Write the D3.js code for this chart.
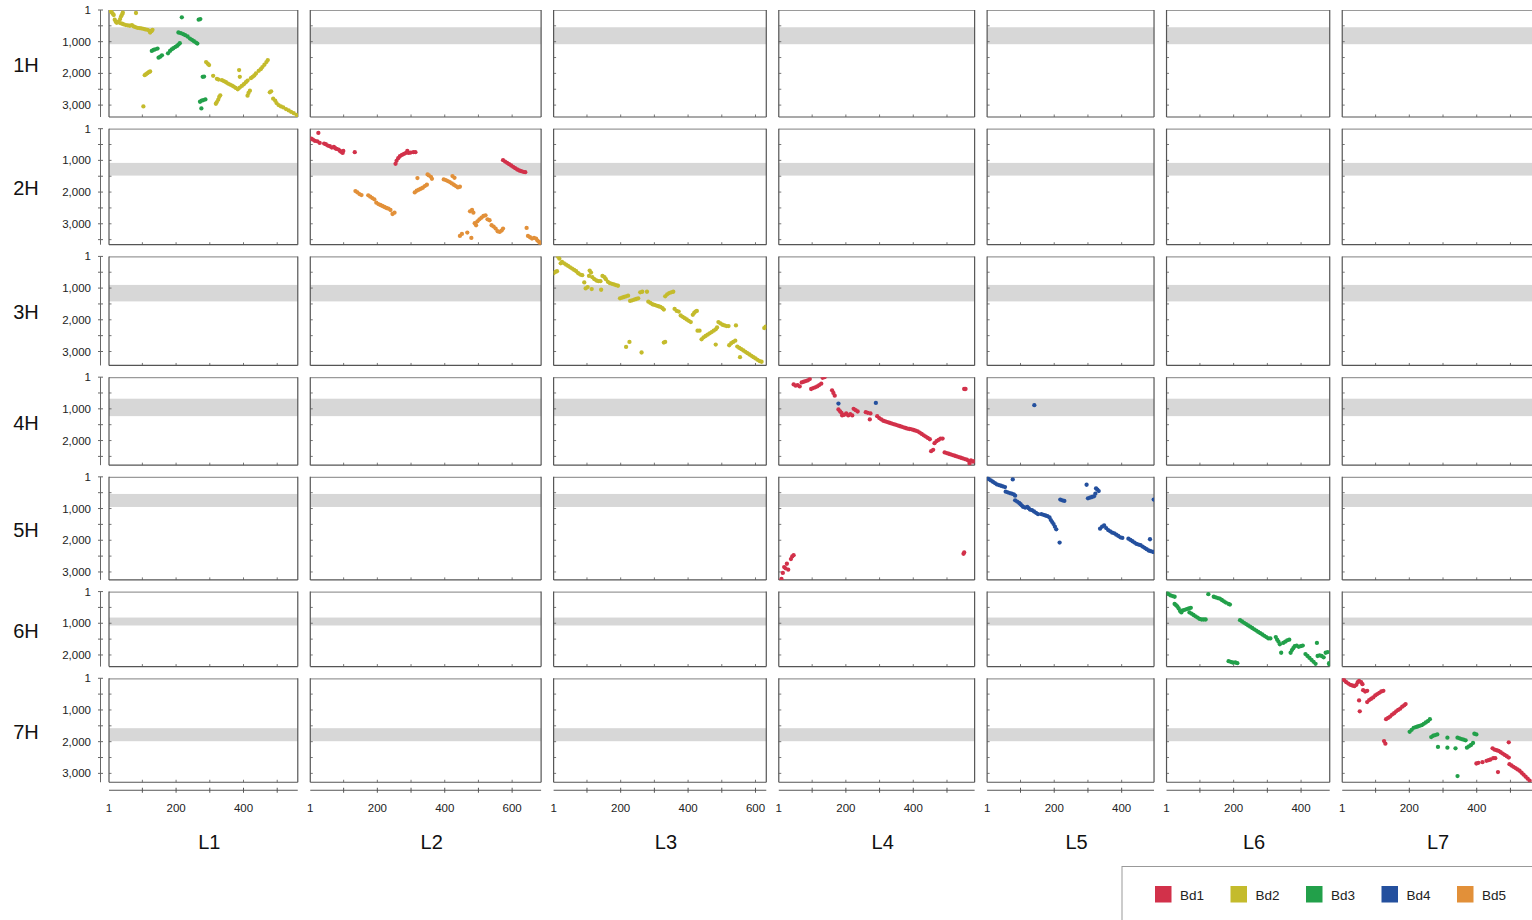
<!DOCTYPE html>
<html><head><meta charset="utf-8">
<script src="https://cdn.jsdelivr.net/npm/d3@7/dist/d3.min.js"></script>
<style>html,body{margin:0;padding:0;background:#fff;overflow:hidden}svg{display:block;font-family:Arial,"Liberation Sans",sans-serif}</style>
</head><body>
<svg id="chart" width="1532" height="920"></svg>
<script>
// ---- categories / extents ----
const rows = ["1H","2H","3H","4H","5H","6H","7H"];
const rowLen = [3375,3660,3440,2776,3250,2366,3280];
const cols = ["L1","L2","L3","L4","L5","L6","L7"];
const colLen = [561,686,632,582,496,485,570];
const centro = [[545,1080],[1080,1480],[900,1420],[680,1230],[540,950],[820,1070],[1575,1985]];
const series = ["Bd1","Bd2","Bd3","Bd4","Bd5"];
const colors = ["#d2314a","#c4bb2c","#22a04a","#24509e","#e29039"];
const yTickLabels = [1,1000,2000,3000];
const xTickLabels = [1,200,400,600];

// ---- dot data [x, y] ----
const d1H_L1_Bd2 = [[3,1],[6,32],[9,74],[12,117],[15,159],[18,307],[21,371],[24,403],[34,286],[37,201],[40,138],[42,85],[81,95],
[28,371],[34,413],[40,435],[45,456],[51,477],[57,488],[63,498],[69,477],[74,519],[79,541],[85,562],[91,572],[97,583],[103,594],[109,615],[115,625],[121,657],[123,710],[127,668],[130,625],
[107,2056],[111,2025],[115,1993],[119,1961],[123,1940],[103,3042],[289,1643],[294,1696],[298,1738],
[310,2078],[321,2173],[326,2194],[336,2215],[342,2247],[348,2279],[354,2321],[360,2353],[366,2385],[371,2417],[377,2459],[383,2502],
[389,2449],[395,2396],[401,2343],[407,2279],[412,2226],[422,2152],[427,2109],[432,2067],[437,2003],[445,1919],[451,1866],[456,1802],[462,1728],[468,1643],[472,1579],
[387,1897],[389,2109],[415,2618],[419,2544],[412,2703],[318,2957],[321,2904],[325,2830],[328,2745],[331,2692],
[478,2597],[482,2565],[488,2798],[494,2862],[498,2936],[504,3000],[511,3042],[518,3074],[526,3127],[534,3169],[541,3212],[549,3254],[557,3307],[560,3350]];
const d1H_L1_Bd3 = [[217,233],[267,307],[272,286],
[207,710],[214,731],[221,763],[227,795],[234,837],[241,901],[247,943],[253,986],[259,1028],[263,1060],
[128,1293],[133,1261],[138,1240],[145,1219],[148,1505],[153,1473],[158,1431],[176,1367],[182,1293],[187,1240],[192,1208],[198,1166],[203,1134],[207,1092],[211,1049],
[279,2109],[283,2099],[271,2894],[276,2862],[281,2841],[287,2820],[275,3106]];
const d2H_L2_Bd1 = [[4,314],[9,346],[15,387],[22,398],[25,136],[29,450],[42,471],[47,492],[53,534],[59,555],[65,597],[71,576],[75,618],[79,639],[85,660],[89,701],[93,733],[97,764],[99,701],[133,743],
[254,1110],[257,1016],[262,932],[267,869],[273,827],[279,796],[285,764],[289,701],[293,764],[299,754],[307,743],[313,743],
[573,995],[579,1037],[585,1078],[591,1120],[597,1162],[603,1204],[609,1246],[615,1288],[621,1319],[627,1340],[633,1361],[639,1372]];
const d2H_L2_Bd5 = [[135,1968],[141,2010],[147,2063],[153,2094],[173,2104],[179,2146],[185,2188],[191,2230],[197,2335],[203,2377],[209,2408],[215,2440],[221,2471],[227,2502],[233,2523],[239,2565],[245,2691],[251,2649],
[311,2010],[317,1958],[323,1926],[329,1895],[335,1864],[341,1811],[347,1769],[319,1560],[349,1445],[353,1476],[359,1518],[362,1581],
[397,1602],[403,1623],[409,1654],[415,1686],[421,1728],[427,1769],[423,1497],[429,1550],[433,1811],[439,1853],[445,1832],
[475,2607],[481,2565],[485,2649],[489,2984],[493,3047],[497,2921],[503,2858],[509,2806],[515,2754],[521,2733],[527,2858],[533,2889],[539,3047],[545,3089],[551,3152],[557,3236],[563,3257],[569,3215],[573,3152],
[445,3382],[451,3319],[467,3277],[479,3445],
[643,3131],[647,3382],[653,3424],[659,3466],[665,3445],[671,3466],[675,3529],[680,3571],[684,3633]];
const d3H_L3_Bd2 = [[1,532],[6,490],[11,469],[14,10],[18,73],[22,219],[26,177],[32,219],[38,261],[44,302],[50,344],[56,386],[62,427],[68,469],[74,532],[80,573],[86,594],[92,823],[96,1011],[102,969],[108,448],[112,511],[106,615],[114,1031],[116,657],[122,719],[128,761],[134,782],[140,782],[142,1052],[146,615],[152,657],[156,719],[162,802],[168,844],[174,865],[180,886],[186,907],[192,927],
[198,1323],[204,1302],[210,1281],[216,1261],[222,1240],[228,1406],[234,1385],[240,1365],[246,1344],[252,1323],[258,1135],[264,1115],[278,1115],[282,1427],[288,1469],[294,1510],[300,1531],[306,1552],[312,1573],[318,1594],[324,1636],[328,1677],[332,1261],[338,1198],[344,1156],[350,1135],[356,1115],
[360,1657],[366,1719],[372,1740],[378,1865],[384,1906],[390,1948],[396,1990],[402,2031],[408,2073],[414,1844],[418,1782],[422,1740],[426,1719],[428,2344],[434,2344],[440,2615],[446,2553],[452,2511],[458,2469],[464,2427],[470,2386],[476,2344],[482,2302],[486,2240],[490,2073],[496,2115],[502,2157],[508,2178],[514,2198],[520,2198],[542,2178],[482,2782],
[522,2803],[528,2740],[534,2698],[540,2657],[546,2844],[552,2886],[558,2928],[564,2969],[570,3011],[576,3053],[582,3094],[588,3136],[594,3178],[600,3219],[606,3261],[612,3303],[618,3323],[554,3178],
[626,2261],[630,2219],[216,2855],[226,2698],[262,3032],[328,2719],[332,2698]];
const d4H_L4_Bd1 = [[45,229],[51,271],[57,250],[63,292],[69,167],[75,146],[81,125],[87,104],[93,63],[97,375],[103,344],[109,323],[115,292],[121,250],[127,208],[131,21],[137,1],
[159,417],[163,500],[167,584],[178,1021],[183,1084],[187,1125],[189,1209],[195,1188],[201,1146],[207,1209],[213,1167],[219,1209],[223,1000],[229,1042],[235,1084],[259,1105],[265,1125],[271,1334],[273,1146],[293,1230],[299,1292],[305,1334],[311,1375],[317,1396],[323,1417],[329,1438],[335,1459],[341,1480],[347,1500],[353,1521],[359,1542],[365,1563],[371,1584],[377,1605],[383,1625],[389,1636],[395,1646],[401,1667],[407,1688],[413,1709],[419,1750],[425,1792],[431,1834],[437,1875],[443,1917],[449,1959],[453,2334],[459,2292],[463,2084],[469,2021],[475,1980],[481,1938],[487,1938],
[493,2375],[499,2396],[505,2417],[511,2438],[517,2459],[523,2480],[529,2500],[535,2521],[541,2542],[547,2563],[553,2584],[559,2605],[565,2646],[571,2625],[577,2667],[581,2646],[567,2730],[551,375],[555,375]];
const d4H_L4_Bd4 = [[178,834],[289,813]];
const d4H_L5_Bd4 = [[141,886]];
const d5H_L4_Bd1 = [[9,3220],[13,3032],[17,2845],[21,2886],[25,2741],[29,2928],[37,2595],[41,2511],[45,2470],[549,2428],[551,2386]];
const d5H_L5_Bd4 = [[2,31],[6,73],[12,115],[18,156],[24,198],[30,240],[36,261],[42,281],[48,302],[54,323],[77,83],[56,469],[62,490],[68,511],[74,532],[80,552],[84,594],[84,740],[90,781],[96,823],[100,865],[104,907],[108,948],[114,969],[120,948],[124,990],[128,1032],[134,1052],[140,1094],[146,1136],[152,1177],[162,1177],[168,1198],[174,1219],[180,1240],[186,1282],[190,1365],[194,1428],[198,1490],[202,1573],[206,1657],[216,2074],[218,719],[224,740],[230,761],
[296,250],[300,677],[306,657],[312,636],[318,615],[322,532],[324,365],[328,406],[332,448],
[336,1636],[342,1573],[348,1532],[354,1615],[360,1678],[366,1719],[372,1761],[378,1782],[384,1823],[390,1865],[396,1907],[402,1928],[420,1949],[426,1990],[432,2032],[438,2074],[444,2115],[450,2136],[456,2157],[462,2199],[468,2240],[474,2282],[480,2324],[486,2345],[492,2366],[495,2366],[484,1969],[495,719]];
const d6H_L6_Bd3 = [[1,21],[7,82],[13,123],[19,144],[25,164],[25,390],[29,431],[33,472],[37,534],[41,616],[45,657],[49,595],[55,575],[61,554],[67,534],[73,513],[69,657],[75,698],[81,739],[87,780],[93,821],[99,862],[105,882],[111,882],[117,882],[125,82],[141,164],[147,185],[153,205],[159,226],[165,267],[171,308],[177,349],[185,390],[189,410],
[185,2196],[191,2216],[197,2237],[205,2237],[211,2257],
[219,903],[225,944],[231,985],[237,1026],[243,1067],[249,1108],[255,1149],[261,1190],[267,1231],[273,1272],[279,1313],[285,1354],[291,1395],[297,1436],[303,1478],[309,1478],
[325,1436],[329,1519],[333,1580],[337,1662],[341,1929],[347,1621],[353,1580],[359,1539],[365,1519],[369,1929],[373,1847],[377,1785],[381,1724],[387,1703],[393,1744],[399,1724],[405,1703],[413,1970],[419,2032],[425,2093],[431,2155],[437,2216],[443,2278],[447,1621],[449,2032],[455,2011],[461,2032],[467,2073],[473,1929],[479,1908],[483,2257],[484,2298]];
const d7H_L7_Bd1 = [[1,21],[7,63],[13,125],[19,167],[25,208],[31,229],[37,250],[43,208],[47,125],[51,83],[57,125],[61,188],[63,375],[69,417],[75,396],[51,698],[53,1042],[75,750],[81,688],[87,646],[93,604],[99,542],[105,500],[111,458],[117,417],[123,396],
[131,1292],[137,1250],[143,1209],[149,1146],[155,1104],[161,1042],[167,1000],[173,959],[179,896],[185,854],[189,813],[125,1980],[129,2063],
[447,2209],[453,2251],[459,2271],[465,2292],[471,2334],[477,2376],[483,2417],[489,2459],[495,2501],[495,2021],
[399,2688],[405,2667],[417,2646],[429,2605],[435,2584],[441,2563],[449,2521],[455,2521],[463,2959],
[497,2709],[503,2751],[509,2792],[515,2834],[521,2876],[527,2917],[533,2980],[539,3042],[545,3105],[551,3167],[557,3230]];
const d7H_L7_Bd3 = [[201,1688],[207,1625],[213,1563],[219,1542],[225,1521],[231,1500],[237,1479],[243,1438],[249,1396],[255,1354],[261,1292],[265,1855],[271,1813],[277,1792],[283,1771],[285,2167],[313,1875],[313,2188],[337,2209],[343,1875],[349,1896],[355,1917],[361,1938],[367,1959],[371,2188],[377,2146],[383,2105],[389,2042],[393,1750],[399,1771],[343,3084]];

const panelData = [
  {r:0,c:0,s:1,pts:d1H_L1_Bd2},{r:0,c:0,s:2,pts:d1H_L1_Bd3},
  {r:1,c:1,s:0,pts:d2H_L2_Bd1},{r:1,c:1,s:4,pts:d2H_L2_Bd5},
  {r:2,c:2,s:1,pts:d3H_L3_Bd2},
  {r:3,c:3,s:0,pts:d4H_L4_Bd1},{r:3,c:3,s:3,pts:d4H_L4_Bd4},{r:3,c:4,s:3,pts:d4H_L5_Bd4},
  {r:4,c:3,s:0,pts:d5H_L4_Bd1},{r:4,c:4,s:3,pts:d5H_L5_Bd4},
  {r:5,c:5,s:2,pts:d6H_L6_Bd3},
  {r:6,c:6,s:0,pts:d7H_L7_Bd1},{r:6,c:6,s:2,pts:d7H_L7_Bd3}
];

// ---- layout ----
const left0 = 109, top0 = 10, kx = 0.3365, ky = 0.0317, gapX = 12.5, gapY = 11.7;
const svg = d3.select("#chart");
const xScales = [], yScales = [];
let cx = left0;
colLen.forEach(L => { const w = L*kx; xScales.push(d3.scaleLinear().domain([1,L]).range([cx,cx+w])); cx += w + gapX; });
let cy = top0;
rowLen.forEach(L => { const h = L*ky; yScales.push(d3.scaleLinear().domain([1,L]).range([cy,cy+h])); cy += h + gapY; });

const frameDark = "#555", frameLight = "#9a9a9a";
const defs = svg.append("defs");

// panels
rows.forEach((rn, ri) => {
  const ys = yScales[ri];
  cols.forEach((cn, ci) => {
    const xs = xScales[ci];
    const [x0,x1] = xs.range(), [y0,y1] = ys.range();
    const g = svg.append("g");
    defs.append("clipPath").attr("id",`clip${ri}_${ci}`).append("rect").attr("x",x0).attr("y",y0).attr("width",x1-x0).attr("height",y1-y0);
    g.append("rect").attr("x",x0).attr("y",y0).attr("width",x1-x0).attr("height",y1-y0).attr("fill","#fff");
    const [c0,c1] = centro[ri];
    g.append("rect").attr("x",x0).attr("y",ys(c0)).attr("width",x1-x0).attr("height",ys(c1)-ys(c0)).attr("fill","#d7d7d7");
    const yt = d3.range(500, rowLen[ri], 500);
    g.selectAll(null).data(yt).join("line").attr("x1",x0).attr("x2",x0+2.5).attr("y1",d=>ys(d)).attr("y2",d=>ys(d)).attr("stroke",frameDark).attr("stroke-width",0.8);
    const xt = d3.range(100, colLen[ci], 100);
    g.selectAll(null).data(xt).join("line").attr("y1",y1).attr("y2",y1-2.5).attr("x1",d=>xs(d)).attr("x2",d=>xs(d)).attr("stroke",frameDark).attr("stroke-width",0.8);
    g.append("line").attr("x1",x0).attr("x2",x1).attr("y1",y0+0.5).attr("y2",y0+0.5).attr("stroke",frameLight).attr("stroke-width",1.2);
    g.append("line").attr("x1",x0).attr("x2",x0).attr("y1",y0).attr("y2",y1).attr("stroke",frameDark).attr("stroke-width",1.2);
    g.append("line").attr("x1",x1).attr("x2",x1).attr("y1",y0).attr("y2",y1).attr("stroke",frameDark).attr("stroke-width",1.2);
    g.append("line").attr("x1",x0).attr("x2",x1).attr("y1",y1).attr("y2",y1).attr("stroke",frameDark).attr("stroke-width",1.2);
  });
});

// dots
panelData.forEach(p => {
  const xs = xScales[p.c], ys = yScales[p.r];
  svg.append("g").attr("clip-path",`url(#clip${p.r}_${p.c})`)
    .selectAll("circle").data(p.pts).join("circle")
    .attr("cx", d => xs(d[0])).attr("cy", d => ys(d[1])).attr("r", 2.15)
    .attr("fill", colors[p.s]);
});

// y axes + row labels
rows.forEach((rn, ri) => {
  const ys = yScales[ri];
  const ax = 100.5;
  const [y0,y1] = ys.range();
  const g = svg.append("g");
  g.append("line").attr("x1",ax).attr("x2",ax).attr("y1",y0).attr("y2",y1).attr("stroke","#666").attr("stroke-width",1);
  const ticks = [1].concat(d3.range(500, rowLen[ri], 500));
  g.selectAll(null).data(ticks).join("line").attr("x1",ax-2.5).attr("x2",ax+2.5).attr("y1",d=>ys(d)).attr("y2",d=>ys(d)).attr("stroke","#666");
  g.selectAll(null).data(yTickLabels.filter(v => v < rowLen[ri])).join("text")
    .attr("x", 91).attr("y", d => ys(d) + 4).attr("text-anchor","end")
    .attr("font-size", 11.5).attr("fill","#222").text(d => d3.format(",")(d));
  svg.append("text").attr("x",26).attr("y",(y0+y1)/2 + 8.5).attr("text-anchor","middle")
    .attr("font-size",20).attr("fill","#111").text(rn);
});

// x axes + column labels
const axY = yScales[6].range()[1] + 8;
cols.forEach((cn, ci) => {
  const xs = xScales[ci];
  const [x0,x1] = xs.range();
  const g = svg.append("g");
  g.append("line").attr("x1",x0).attr("x2",x1).attr("y1",axY).attr("y2",axY).attr("stroke","#555").attr("stroke-width",1);
  const ticks = d3.range(100, colLen[ci], 100);
  g.selectAll(null).data(ticks).join("line").attr("y1",axY-2.5).attr("y2",axY+2.5).attr("x1",d=>xs(d)).attr("x2",d=>xs(d)).attr("stroke","#555");
  g.selectAll(null).data(xTickLabels.filter(v => v < colLen[ci])).join("text")
    .attr("x", d => xs(d)).attr("y", axY + 22).attr("text-anchor","middle")
    .attr("font-size", 11.5).attr("fill","#222").text(d => d);
  const labX = Math.min((x0+x1)/2, 1432) + 6;
  svg.append("text").attr("x",labX).attr("y",849).attr("text-anchor","middle")
    .attr("font-size",20).attr("fill","#111").text(cn);
});

// legend
const lg = svg.append("g");
lg.append("rect").attr("x",1122).attr("y",866.5).attr("width",430).attr("height",70).attr("fill","#fff").attr("stroke","#999").attr("stroke-width",1);
series.forEach((s, i) => {
  const x = 1155 + i*75.5;
  lg.append("rect").attr("x",x).attr("y",886).attr("width",16.5).attr("height",16.5).attr("fill",colors[i]);
  lg.append("text").attr("x",x+25).attr("y",899.5).attr("font-size",13.5).attr("fill","#222").text(s);
});
</script>
</body></html>
